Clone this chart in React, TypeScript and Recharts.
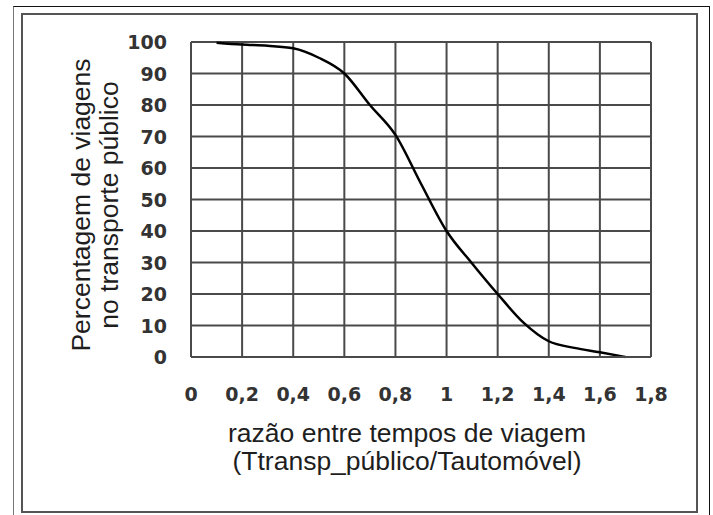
import { CartesianGrid, Label, Line, LineChart, XAxis, YAxis } from "recharts";

// razão entre tempos de viagem (eixo x) e % de viagens no transporte público
const ratio = [0.1, 0.2, 0.3, 0.4, 0.5, 0.6, 0.7, 0.8, 0.9, 1.0, 1.1, 1.2, 1.3, 1.4, 1.5, 1.6, 1.7];
const share = [99.8, 99.2, 98.8, 98, 95, 90, 80, 70.5, 55, 40, 29.7, 20, 11, 5, 2.9, 1.5, 0];

const xTicks = [0, 0.2, 0.4, 0.6, 0.8, 1, 1.2, 1.4, 1.6, 1.8];
const yTicks = [0, 10, 20, 30, 40, 50, 60, 70, 80, 90, 100];

const xTitle = ["razão entre tempos de viagem", "(Ttransp_público/Tautomóvel)"];
const yTitle = ["Percentagem de viagens", "no transporte público"];

const data = ratio.map((x, i) => ({ x, y: share[i] }));

const tickFont = {
  fontFamily: "'DejaVu Sans', Verdana, sans-serif",
  fontWeight: "bold" as const,
  fontSize: 19,
  fill: "#333",
};
const titleFont = {
  fontFamily: "'Liberation Sans', Arial, sans-serif",
  fontSize: 26.5,
  fill: "#1e1e1e",
};

const fmt = (v: number) => String(v).replace(".", ",");

function XTick({ x, y, payload }: any) {
  return (
    <text x={x} y={y + 44} textAnchor="middle" {...tickFont}>
      {fmt(payload.value)}
    </text>
  );
}

function YTick({ x, y, payload }: any) {
  return (
    <text x={x - 24} y={y + 7} textAnchor="end" {...tickFont}>
      {payload.value}
    </text>
  );
}

export default function App() {
  return (
    <div style={{ position: "absolute", left: 0, top: 0, width: 713, height: 515, background: "#fff" }}>
      <div
        style={{
          position: "absolute",
          left: 13,
          top: 6,
          width: 697,
          height: 509,
          borderTop: "1px solid #111",
          borderLeft: "1px solid #777",
          borderRight: "1px solid #111",
          boxSizing: "border-box",
        }}
      />
      <div
        style={{
          position: "absolute",
          left: 21,
          top: 13,
          width: 677,
          height: 500,
          border: "2px solid #555",
          boxSizing: "border-box",
        }}
      />
      <div style={{ position: "absolute", left: 0, top: 0 }}>
        <LineChart
          width={713}
          height={515}
          data={data}
          margin={{ top: 42, right: 62, bottom: 98, left: 111 }}
        >
          <CartesianGrid stroke="#4a4a4a" strokeWidth={2} />
          <XAxis
            dataKey="x"
            type="number"
            domain={[0, 1.8]}
            ticks={xTicks}
            interval={0}
            height={60}
            tickSize={0}
            tickMargin={0}
            axisLine={{ stroke: "#4a4a4a", strokeWidth: 2 }}
            tickLine={false}
            tick={<XTick />}
          >
            <Label
              content={({ viewBox }: any) => (
                <g>
                  {xTitle.map((t, i) => (
                    <text
                      key={t}
                      x={viewBox.x + viewBox.width / 2 - 14}
                      y={441.5 + i * 28.5}
                      textAnchor="middle"
                      {...titleFont}
                    >
                      {t}
                    </text>
                  ))}
                </g>
              )}
            />
          </XAxis>
          <YAxis
            type="number"
            domain={[0, 100]}
            ticks={yTicks}
            interval={0}
            width={80}
            tickSize={0}
            tickMargin={0}
            axisLine={{ stroke: "#4a4a4a", strokeWidth: 2 }}
            tickLine={false}
            tick={<YTick />}
          >
            <Label
              content={() => (
                <g>
                  {yTitle.map((t, i) => {
                    const cx = 90 + i * 28;
                    const cy = 205;
                    return (
                      <text
                        key={t}
                        x={cx}
                        y={cy}
                        textAnchor="middle"
                        transform={`rotate(-90, ${cx}, ${cy})`}
                        {...titleFont}
                      >
                        {t}
                      </text>
                    );
                  })}
                </g>
              )}
            />
          </YAxis>
          <Line
            type="monotone"
            dataKey="y"
            stroke="#000"
            strokeWidth={2.5}
            dot={false}
            isAnimationActive={false}
          />
        </LineChart>
      </div>
    </div>
  );
}
